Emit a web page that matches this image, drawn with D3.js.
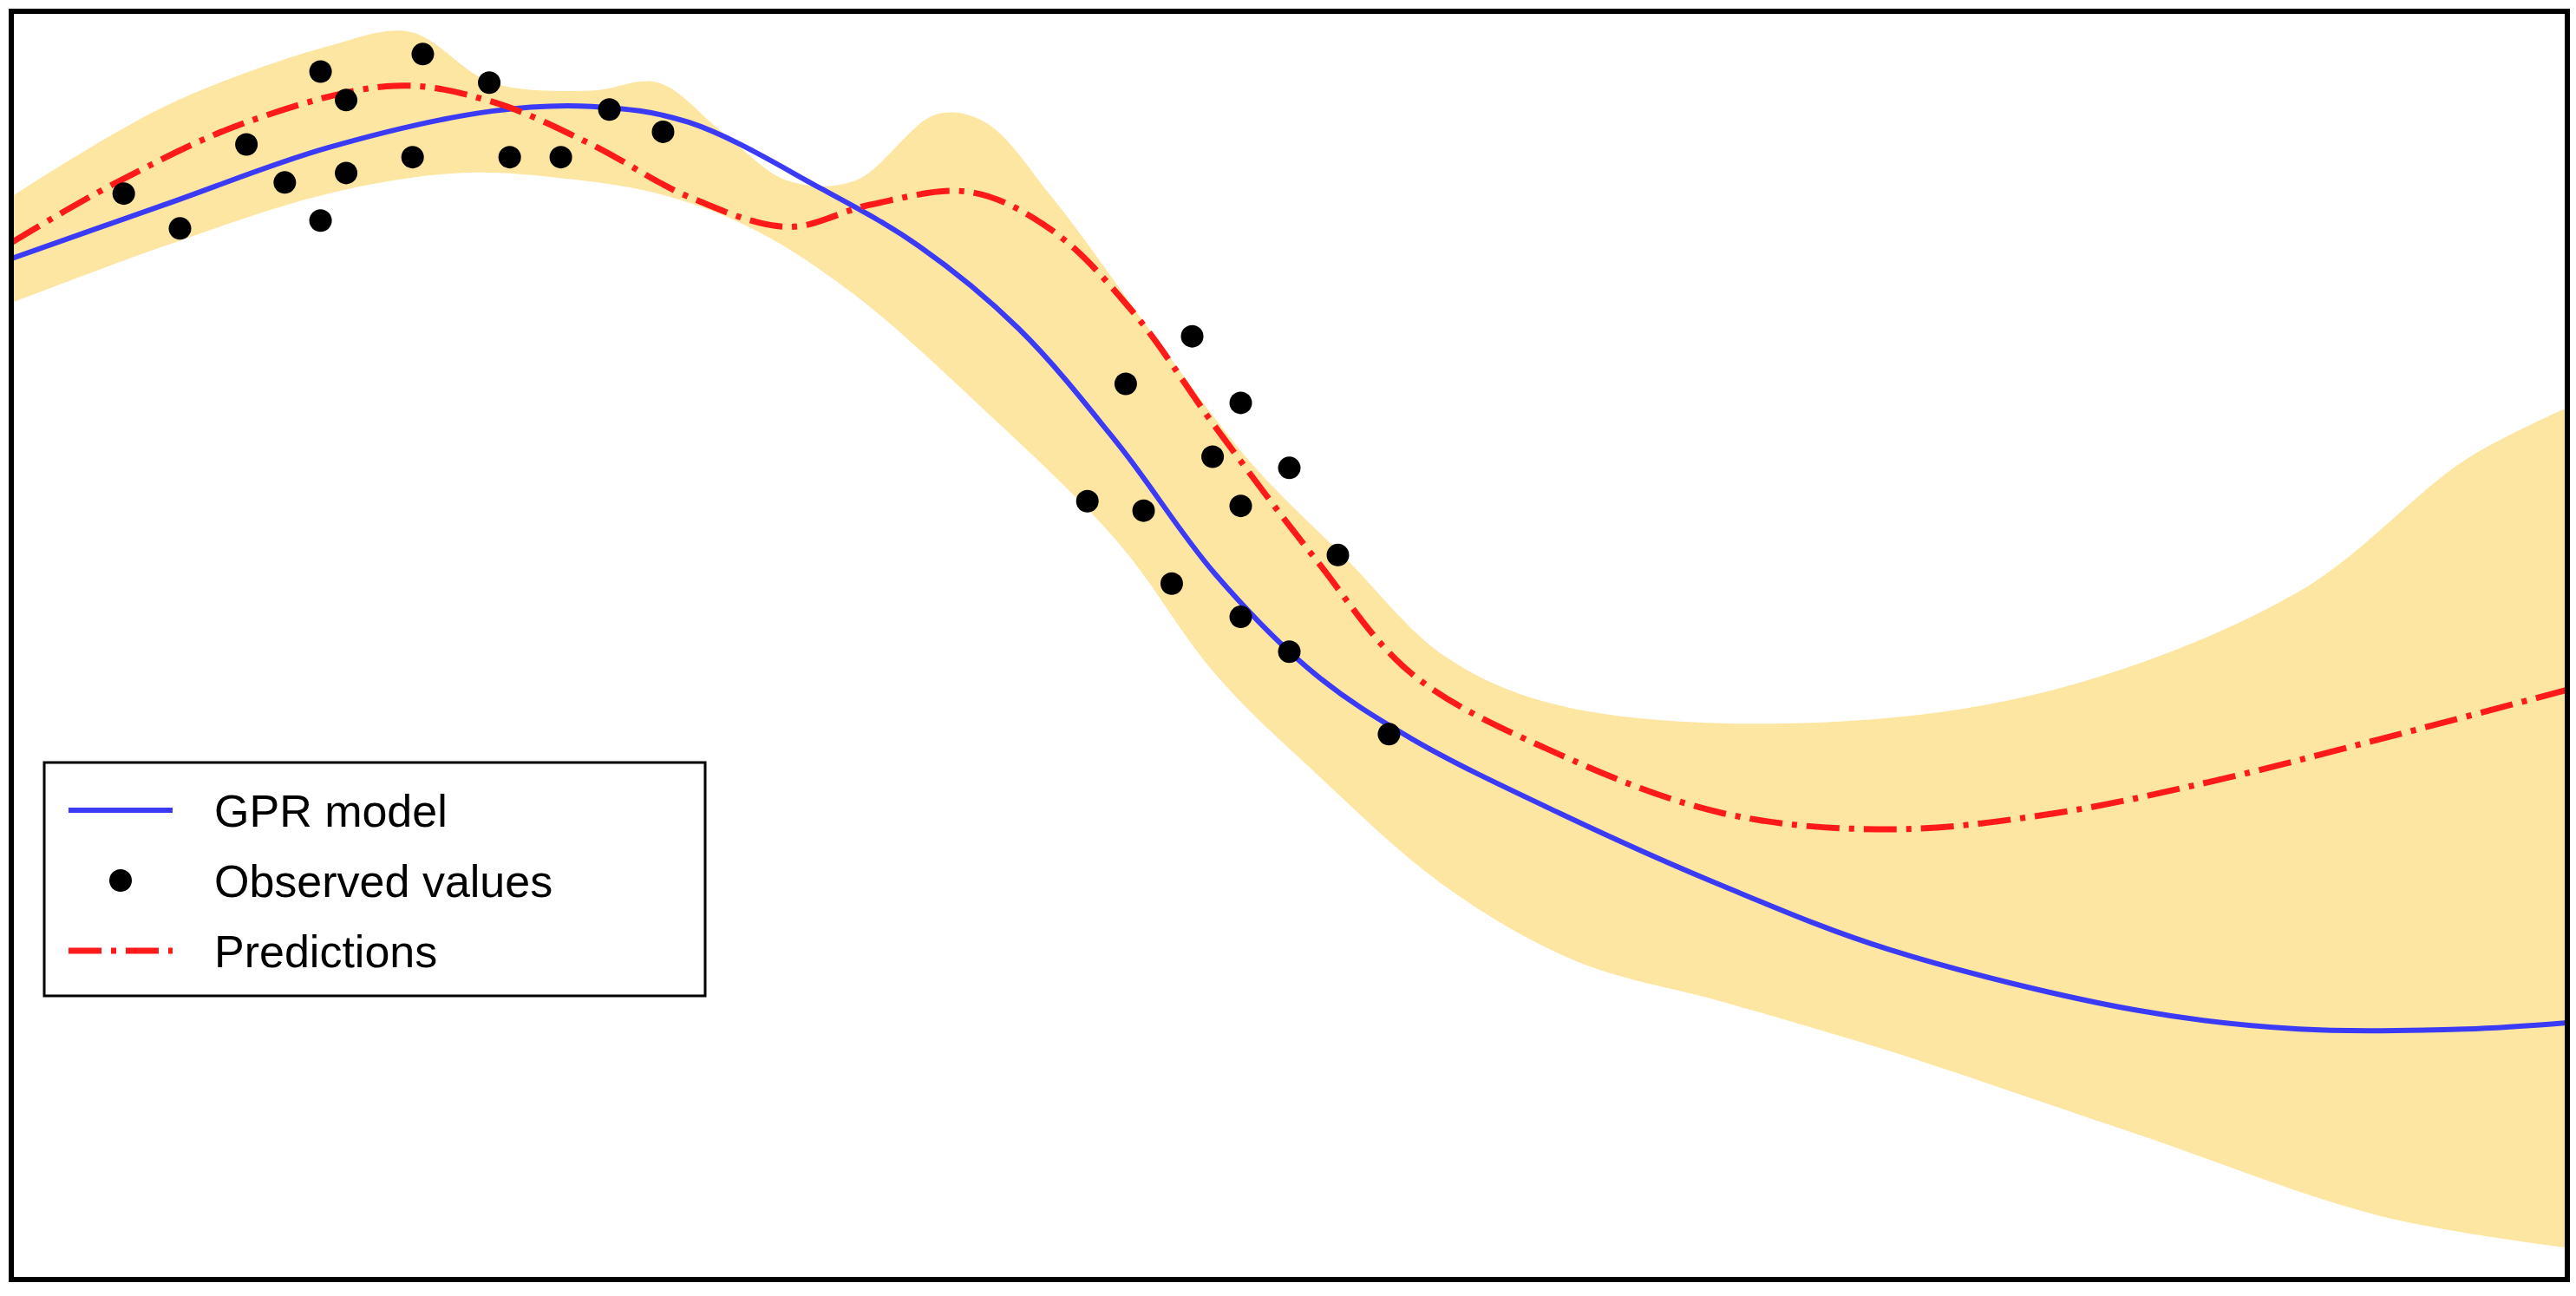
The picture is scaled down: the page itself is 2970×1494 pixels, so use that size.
<!DOCTYPE html>
<html>
<head>
<meta charset="utf-8">
<script src="https://cdn.jsdelivr.net/npm/d3@7"></script>
<style>
  body { margin: 0; background: #fff; }
  svg { display: block; }
</style>
</head>
<body>
<script>
// observed values
var obsX = [0.44, 0.66, 0.92, 1.07, 1.21, 1.21, 1.31, 1.31, 1.57, 1.61, 1.87, 1.95, 2.15, 2.34, 2.55,
            4.21, 4.36, 4.43, 4.54, 4.62, 4.70, 4.81, 4.81, 4.81, 5.00, 5.00, 5.19, 5.39];
var obsY = [2.85, 2.63, 3.16, 2.92, 3.62, 2.68, 3.44, 2.98, 3.08, 3.73, 3.55, 3.08, 3.08, 3.38, 3.24,
            0.91, 1.65, 0.85, 0.39, 1.95, 1.19, 1.53, 0.88, 0.18, 1.12, -0.04, 0.57, -0.56];

// GPR model mean
var gprX = [0, 0.60, 1.24, 1.88, 2.27, 2.65, 3.17, 3.55, 3.94, 4.33, 4.71, 5.10, 5.48, 6.06, 6.70, 7.35, 8.31, 8.95, 9.60, 10];
var gprY = [2.44, 2.78, 3.14, 3.37, 3.40, 3.30, 2.88, 2.52, 2.00, 1.27, 0.45, -0.18, -0.59, -1.06, -1.52, -1.92, -2.30, -2.42, -2.42, -2.38];

// predictions
var predX = [0, 0.40, 0.92, 1.50, 1.88, 2.27, 2.65, 3.04, 3.36, 3.75, 4.07, 4.39, 4.71, 5.10, 5.48, 6.06, 6.70, 7.35, 7.99, 8.63, 9.27, 10];
var predY = [2.54, 2.91, 3.30, 3.53, 3.43, 3.16, 2.83, 2.64, 2.78, 2.86, 2.62, 2.10, 1.38, 0.55, -0.18, -0.69, -1.06, -1.16, -1.06, -0.85, -0.59, -0.28];

// confidence band
var upX = [0, 0.60, 1.24, 1.56, 1.88, 2.27, 2.53, 2.78, 3.04, 3.30, 3.62, 3.81, 4.07, 4.45, 4.84, 5.22, 5.61, 6.06, 7.02, 7.99, 8.95, 9.60, 10];
var upY = [2.83, 3.40, 3.78, 3.87, 3.55, 3.50, 3.55, 3.24, 2.93, 2.93, 3.35, 3.30, 2.83, 2.00, 1.17, 0.55, -0.07, -0.38, -0.49, -0.28, 0.34, 1.17, 1.50];
var loX = [0, 0.60, 1.24, 1.75, 2.14, 2.53, 2.91, 3.30, 3.81, 4.33, 4.71, 5.10, 5.61, 6.12, 6.70, 7.35, 8.31, 9.27, 10];
var loY = [2.16, 2.52, 2.85, 2.98, 2.95, 2.85, 2.62, 2.21, 1.48, 0.65, -0.18, -0.80, -1.52, -1.99, -2.25, -2.56, -3.08, -3.60, -3.80];

var legendLabels = ['GPR model', 'Observed values', 'Predictions'];

var W = 2970, H = 1494;
var box = {left: 13, top: 13, right: 2960, bottom: 1475};

var svg = d3.select('body').append('svg')
    .attr('width', W)
    .attr('height', H);

svg.append('defs').append('clipPath').attr('id', 'clip')
    .append('rect')
    .attr('x', box.left).attr('y', box.top)
    .attr('width', box.right - box.left).attr('height', box.bottom - box.top);

var x = d3.scaleLinear().domain([0, 10]).range([box.left, box.right]);
var y = d3.scaleLinear().domain([-4, 4]).range([box.bottom, box.top]);

function zip(xs, ys) { return xs.map(function(v, i) { return [v, ys[i]]; }); }

var line = d3.line()
    .x(function(d) { return x(d[0]); })
    .y(function(d) { return y(d[1]); })
    .curve(d3.curveCatmullRom);

var g = svg.append('g').attr('clip-path', 'url(#clip)');

var upper = zip(upX, upY);
var lower = zip(loX, loY).reverse();
g.append('path')
    .attr('d', line(upper) + 'L' + line(lower).slice(1) + 'Z')
    .attr('fill', '#fde6a2');

g.append('path')
    .attr('d', line(zip(gprX, gprY)))
    .attr('fill', 'none')
    .attr('stroke', '#3b3bf5')
    .attr('stroke-width', 6);

g.append('path')
    .attr('d', line(zip(predX, predY)))
    .attr('fill', 'none')
    .attr('stroke', '#ff1a1a')
    .attr('stroke-width', 7)
    .attr('stroke-dasharray', '38,11,6,11');

g.selectAll('circle.obs')
    .data(zip(obsX, obsY))
    .enter()
    .append('circle')
    .attr('class', 'obs')
    .attr('cx', function(d) { return x(d[0]); })
    .attr('cy', function(d) { return y(d[1]); })
    .attr('r', 13)
    .attr('fill', '#000');

svg.append('rect')
    .attr('x', box.left).attr('y', box.top)
    .attr('width', box.right - box.left).attr('height', box.bottom - box.top)
    .attr('fill', 'none')
    .attr('stroke', '#000')
    .attr('stroke-width', 6);

// legend
var lg = svg.append('g').attr('transform', 'translate(51,879)');
lg.append('rect')
    .attr('width', 762).attr('height', 269)
    .attr('fill', '#fff')
    .attr('stroke', '#000')
    .attr('stroke-width', 3);

var rows = lg.selectAll('g.row')
    .data(legendLabels)
    .enter()
    .append('g')
    .attr('class', 'row')
    .attr('transform', function(d, i) { return 'translate(0,' + (55 + i * 81) + ')'; });

rows.each(function(d, i) {
    var r = d3.select(this);
    if (i === 0) {
        r.append('line').attr('x1', 28).attr('x2', 148)
            .attr('stroke', '#3b3bf5').attr('stroke-width', 6);
    } else if (i === 1) {
        r.append('circle').attr('cx', 88).attr('r', 13).attr('fill', '#000');
    } else {
        r.append('line').attr('x1', 28).attr('x2', 148)
            .attr('stroke', '#ff1a1a').attr('stroke-width', 7)
            .attr('stroke-dasharray', '38,11,6,11');
    }
    r.append('text')
        .attr('x', 196)
        .attr('dy', '0.36em')
        .attr('font-family', 'Liberation Sans, Arial, sans-serif')
        .attr('font-size', 52)
        .attr('fill', '#000')
        .text(d);
});
</script>
</body>
</html>
